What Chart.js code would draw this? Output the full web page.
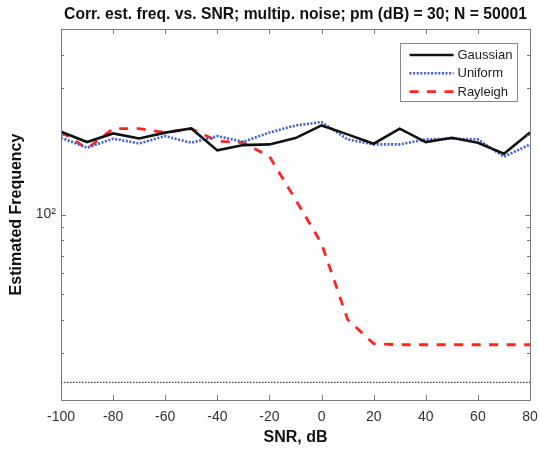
<!DOCTYPE html>
<html>
<head>
<meta charset="utf-8">
<script src="https://cdn.jsdelivr.net/npm/chart.js@4.4.1/dist/chart.umd.min.js"></script>
<style>
  html, body { margin: 0; padding: 0; background: #fff; }
  #wrap { width: 539px; height: 449px; position: relative; }
</style>
</head>
<body>
<div id="wrap"><canvas id="chart"></canvas></div>
<script>
// ---- data ----
const snr      = [-100, -90, -80, -70, -60, -50, -40, -30, -20, -10, 0, 10, 20, 30, 40, 50, 60, 70, 80];
const gaussian = [205, 187.5, 202, 193.5, 203.5, 211, 174.4, 182.6, 183.7, 194, 216.6, 200.4, 184.8, 210.6, 187.5, 194.7, 186.4, 169.4, 203.5];
const uniform  = [194.7, 178.5, 193, 185.3, 197.4, 186.4, 197.4, 188, 203.5, 216.6, 223, 191.9, 183.7, 183.7, 191.9, 193, 191.9, 165.1, 183.7];
const rayleigh = [205, 177, 210.6, 210.6, 203.5, 210.6, 189, 186.4, 165.5, 113.9, 77.7, 40.2, 32.6, 32.3, 32.3, 32.3, 32.3, 32.3, 32.3];
const refSnr   = [-100, 80];
const refFreq  = [23.3, 23.3];
const yTicks   = [30, 40, 50, 60, 70, 80, 90, 100, 200, 300, 400];
const titleText = 'Corr. est. freq. vs. SNR; multip. noise; pm (dB) = 30; N = 50001';

const FONT = "'Liberation Sans', Arial, sans-serif";
const AXIS_GRAY = '#7a7a7a';

const pts = (xs, ys) => xs.map((x, i) => ({ x, y: ys[i] }));

// title, inward ticks, box frame and legend (MATLAB look)
const matlabAxes = {
  id: 'matlabAxes',
  afterDraw(chart) {
    const { ctx, chartArea: ca, scales } = chart;
    ctx.save();

    // title centred over the axes
    ctx.fillStyle = '#111';
    ctx.font = 'bold 15.7px ' + FONT;
    ctx.textAlign = 'center';
    ctx.textBaseline = 'middle';
    ctx.fillText(titleText, (ca.left + ca.right) / 2, 14.5);

    // inward tick marks
    ctx.strokeStyle = AXIS_GRAY;
    ctx.lineWidth = 1;
    ctx.beginPath();
    scales.x.ticks.forEach(t => {
      const px = Math.round(scales.x.getPixelForValue(t.value)) + 0.5;
      ctx.moveTo(px, ca.bottom); ctx.lineTo(px, ca.bottom - 5);
      ctx.moveTo(px, ca.top);    ctx.lineTo(px, ca.top + 5);
    });
    scales.y.ticks.forEach(t => {
      const py = Math.round(scales.y.getPixelForValue(t.value)) + 0.5;
      const len = t.value === 100 ? 5 : 3;
      ctx.moveTo(ca.left, py);  ctx.lineTo(ca.left + len, py);
      ctx.moveTo(ca.right, py); ctx.lineTo(ca.right - len, py);
    });
    ctx.stroke();

    // frame
    ctx.strokeRect(Math.round(ca.left) + 0.5, Math.round(ca.top) + 0.5,
                   Math.round(ca.right - ca.left), Math.round(ca.bottom - ca.top));

    // legend
    const bw = 117, bh = 58;
    const bx = Math.round(ca.right - 13.5 - bw) + 0.5;
    const by = Math.round(ca.top + 14) + 0.5;
    ctx.fillStyle = '#fff';
    ctx.fillRect(bx, by, bw, bh);
    ctx.strokeStyle = '#888';
    ctx.strokeRect(bx, by, bw, bh);
    ctx.font = '13px ' + FONT;
    ctx.textAlign = 'left';
    ctx.textBaseline = 'middle';
    chart.data.datasets.filter(ds => ds.inLegend).forEach((ds, i) => {
      const ry = by + 11.5 + i * 18.3;
      ctx.beginPath();
      ctx.setLineDash(ds.borderDash || []);
      ctx.strokeStyle = ds.borderColor;
      ctx.lineWidth = ds.borderWidth;
      ctx.moveTo(bx + 9, ry); ctx.lineTo(bx + 53, ry);
      ctx.stroke();
      ctx.setLineDash([]);
      ctx.fillStyle = '#222';
      ctx.fillText(ds.label, bx + 57, ry + 0.5);
    });

    ctx.restore();
  }
};

new Chart(document.getElementById('chart'), {
  type: 'line',
  data: {
    datasets: [
      {
        label: 'Gaussian', inLegend: true,
        data: pts(snr, gaussian),
        borderColor: '#111111', borderWidth: 2.6,
        pointRadius: 0, tension: 0,
      },
      {
        label: 'Uniform', inLegend: true,
        data: pts(snr, uniform),
        borderColor: '#3f5fd2', borderWidth: 2.6, borderDash: [2, 1.6],
        pointRadius: 0, tension: 0,
      },
      {
        label: 'Rayleigh', inLegend: true,
        data: pts(snr, rayleigh),
        borderColor: '#ff2424', borderWidth: 2.8, borderDash: [9, 8.5],
        pointRadius: 0, tension: 0,
      },
      {
        label: 'reference',
        data: pts(refSnr, refFreq),
        borderColor: '#333333', borderWidth: 1.2, borderDash: [1.5, 1.5],
        pointRadius: 0, tension: 0,
      },
    ]
  },
  options: {
    responsive: true,
    maintainAspectRatio: false,
    animation: false,
    layout: { padding: { top: 29, right: 9, left: 0, bottom: 0 } },
    plugins: {
      legend: { display: false },
      title: { display: false },
      tooltip: { enabled: false },
    },
    scales: {
      x: {
        type: 'linear',
        min: -100, max: 80,
        afterFit: s => { s.height = 49; s.paddingLeft = 0; s.paddingRight = 0; },
        grid: { display: false, drawTicks: false },
        border: { display: false },
        ticks: { stepSize: 20, padding: 9, color: '#333', font: { family: FONT, size: 14 } },
        title: { display: true, text: 'SNR, dB', color: '#111', padding: { top: 0, bottom: 2 },
                 font: { family: FONT, size: 16, weight: 'bold' } },
      },
      y: {
        type: 'logarithmic',
        min: 20, max: 500,
        afterFit: s => { s.width = 61; s.paddingTop = 0; s.paddingBottom = 0; },
        afterBuildTicks: s => { s.ticks = yTicks.map(v => ({ value: v })); },
        grid: { display: false, drawTicks: false },
        border: { display: false },
        ticks: {
          autoSkip: false, padding: 5, color: '#333',
          font: { family: FONT, size: 14 },
          callback: v => (v === 100 ? '10²' : ''),
        },
        title: { display: true, text: 'Estimated Frequency', color: '#111', padding: { top: 7, bottom: 0 },
                 font: { family: FONT, size: 16, weight: 'bold' } },
      }
    }
  },
  plugins: [matlabAxes]
});
</script>
</body>
</html>
